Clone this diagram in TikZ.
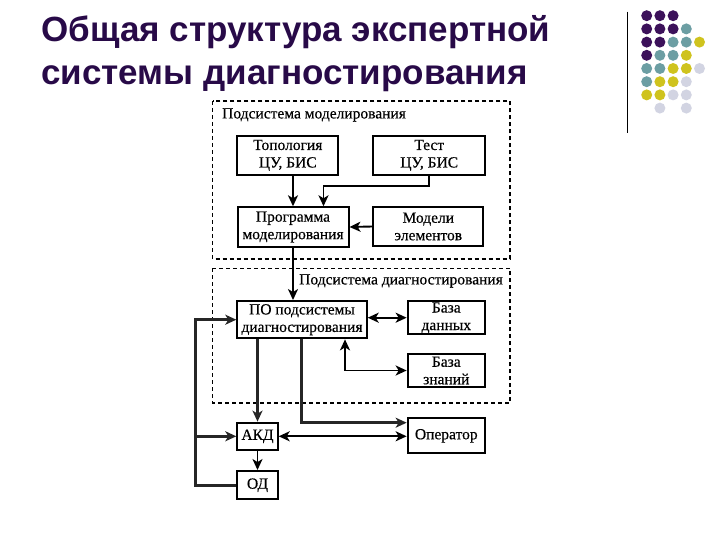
\documentclass[tikz,border=0pt]{standalone}
\usepackage{fontspec}
\setmainfont{Liberation Serif}
\newfontfamily\boxfont[FakeBold=0.4]{Liberation Serif}
\newfontfamily\titlefont{Liberation Sans}
\usetikzlibrary{arrows.meta}
\definecolor{ttl}{RGB}{40,10,72}
\definecolor{dpurple}{RGB}{60,17,90}
\definecolor{dteal}{RGB}{108,158,163}
\definecolor{dyellow}{RGB}{207,195,30}
\definecolor{dlight}{RGB}{210,212,226}
\tikzset{
  box/.style={draw, line width=2pt, inner sep=0pt, align=center,
    font=\boxfont\fontsize{15.5}{17.5}\selectfont},
  grp/.style={draw, dashed, dash pattern=on 4pt off 3pt, line width=1.1pt},
  lbl/.style={inner sep=0pt, font=\boxfont\fontsize{15.5}{17}\selectfont},
  arr/.style={line width=1.9pt, -{Stealth[length=11pt,width=10pt,inset=3pt]}},
  darr/.style={line width=1.9pt, {Stealth[length=11pt,width=10pt,inset=3pt]}-{Stealth[length=11pt,width=10pt,inset=3pt]}},
  thk/.style={line width=3pt, draw=black!85},
  dot/.style={circle, inner sep=0pt, minimum size=11pt},
  ttltext/.style={inner sep=0pt, anchor=base west, text=ttl,
    font=\titlefont\bfseries\fontsize{35}{38}\selectfont}
}
\begin{document}
\begin{tikzpicture}[x=1pt,y=-1pt]
\useasboundingbox (0,0) rectangle (720,540);

% title
\node[ttltext] (t1) at (41,42) {Общая структура экспертной};
\node[ttltext] (t2) at (41,85) {системы диагностирования};

% decoration
\draw[line width=1.4pt] (627.3,11.7) -- (627.3,133.3);
\foreach \r/\cols in {0/{dpurple,dpurple,dpurple},
                      1/{dpurple,dpurple,dpurple,dteal},
                      2/{dpurple,dpurple,dteal,dteal,dyellow},
                      3/{dpurple,dteal,dteal,dyellow},
                      4/{dteal,dteal,dyellow,dyellow,dlight},
                      5/{dteal,dyellow,dyellow,dlight},
                      6/{dyellow,dyellow,dlight,dlight}}{
  \foreach \c [count=\i from 0] in \cols {
    \node[dot, fill=\c] (d\r\i) at (646.7+13.2*\i, 15.7+13.2*\r) {};
  }
}
\node[dot, fill=dlight] (d71) at (646.7+13.2, 15.7+13.2*7) {};
\node[dot, fill=dlight] (d73) at (646.7+13.2*3, 15.7+13.2*7) {};

% group boxes
\draw[grp] (212.7,101) rectangle (510,259);
\draw[grp] (212.7,268.3) rectangle (510,403);
\node[lbl, anchor=west] (g1) at (222,115) {Подсистема моделирования};
\node[lbl, anchor=east] (g2) at (503,281) {Подсистема диагностирования};

% nodes
\node[box, minimum width=101pt, minimum height=39pt] (topo) at (287.8,155.3) {Топология\\ЦУ, БИС};
\node[box, minimum width=111.7pt, minimum height=39pt] (test) at (429.2,155.3) {Тест\\ЦУ, БИС};
\node[box, minimum width=111pt, minimum height=39.4pt] (prog) at (293,227) {Программа\\моделирования};
\node[box, minimum width=110pt, minimum height=39pt] (model) at (428.3,226.5) {Модели\\элементов};
\node[box, minimum width=129.4pt, minimum height=37.3pt] (po) at (302,319.7) {ПО подсистемы\\диагностирования};
\node[box, minimum width=77.3pt, minimum height=33.3pt] (bd) at (446.3,317.7) {База\\данных};
\node[box, minimum width=77.3pt, minimum height=32.4pt] (bz) at (446.3,370.5) {База\\знаний};
\node[box, minimum width=40.4pt, minimum height=27.3pt] (akd) at (257.5,436.3) {АКД};
\node[box, minimum width=77.3pt, minimum height=35pt] (oper) at (446.3,435.8) {Оператор};
\node[box, minimum width=40.4pt, minimum height=28.3pt] (od) at (257.5,485.2) {ОД};

% connectors
\coordinate (tp) at (323.5,185.7);
\coordinate (kz) at (345,371);
\coordinate (op1) at (301.5,422.7);
\coordinate (lx) at (195,400);

\draw[arr] (topo.south -| prog.north) -- (prog.north);
\draw[arr] (test.south) |- (tp) -- (tp |- prog.north);
\draw[arr] (model.west) -- (prog.east);
\draw[arr] (prog.south) -- (prog.south |- po.north);
\draw[darr] (po.east |- bd.west) -- (bd.west);
\draw[darr] (po.south -| kz) |- (bz.west);
\draw[arr, thk] (akd.north |- po.south) -- (akd.north);
\draw[arr, thk] (po.south -| op1) -- (op1) -- (op1 -| oper.west);
\draw[darr] (akd.east) -- (akd.east -| oper.west);
\draw[arr] (akd.south) -- (od.north);
\draw[arr, thk] (od.west) -- (od.west -| lx) -- (po.west -| lx) -- (po.west);
\draw[arr, thk] (akd.west -| lx) -- (akd.west);
\end{tikzpicture}
\end{document}
